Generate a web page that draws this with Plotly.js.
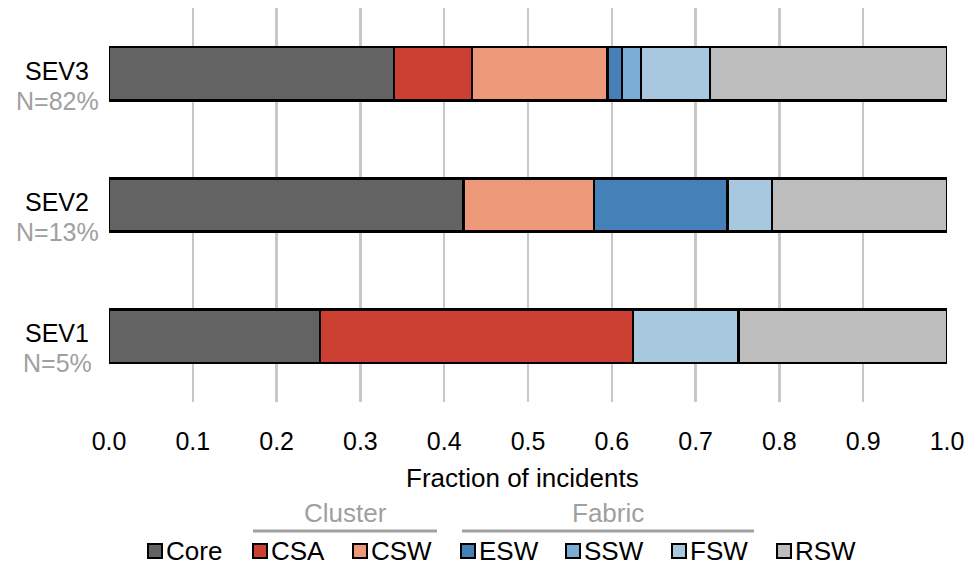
<!DOCTYPE html>
<html>
<head>
<meta charset="utf-8">
<script src="https://cdn.plot.ly/plotly-3.0.1.min.js"></script>
<style>body{margin:0;background:#fff}#chart{width:969px;height:565px}</style>
</head>
<body>
<div id="chart"></div>
<script>
// ---- data ----
const categories = ["SEV1", "SEV2", "SEV3"];
const shares = ["N=5%", "N=13%", "N=82%"];
const seriesNames = ["Core", "CSA", "CSW", "ESW", "SSW", "FSW", "RSW"];
const Core = [0.252, 0.423, 0.340];
const CSA  = [0.373, 0.000, 0.093];
const CSW  = [0.000, 0.156, 0.162];
const ESW  = [0.000, 0.159, 0.017];
const SSW  = [0.000, 0.000, 0.023];
const FSW  = [0.126, 0.053, 0.082];
const RSW  = [0.249, 0.209, 0.283];
const seriesValues = [Core, CSA, CSW, ESW, SSW, FSW, RSW];
const groupLabels = ["Cluster", "Fabric"];
const xTicks = [0, 0.1, 0.2, 0.3, 0.4, 0.5, 0.6, 0.7, 0.8, 0.9, 1.0];

// ---- style ----
const colors = ["#636363", "#cc3f33", "#ee987a", "#4680b8", "#7aacd4", "#a8c8df", "#bdbdbd"];
const FONT = "Liberation Sans, Arial, sans-serif";
const W = 969, H = 565, L = 109, R = 22, T = 8, B = 163;
const PW = W - L - R, PH = H - T - B;
const px = x => (x - L) / PW;
const py = y => (H - B - y) / PH;

const traces = seriesNames.map((n, i) => ({
  type: "bar", orientation: "h", name: n,
  y: categories, x: seriesValues[i],
  marker: {color: colors[i], line: {color: "#000", width: 2.5}},
  hoverinfo: "x+name", showlegend: false
}));

const annotations = [];
categories.forEach((c, i) => {
  annotations.push({xref: "paper", yref: "y", x: px(57), y: c, yshift: 3, text: c, showarrow: false,
    xanchor: "center", yanchor: "middle", font: {family: FONT, size: 25, color: "#000"}});
  annotations.push({xref: "paper", yref: "y", x: px(57), y: c, yshift: -27, text: shares[i], showarrow: false,
    xanchor: "center", yanchor: "middle", font: {family: FONT, size: 25, color: "#a0a0a0"}});
});

// legend (custom)
const legendSq = [148, 253, 353, 461, 566, 672, 777];
const shapes = [];
seriesNames.forEach((n, i) => {
  shapes.push({type: "rect", xref: "paper", yref: "paper",
    x0: px(legendSq[i]), x1: px(legendSq[i] + 14), y0: py(558), y1: py(544),
    fillcolor: colors[i], line: {color: "#000", width: 2}});
  annotations.push({xref: "paper", yref: "paper", x: px(legendSq[i] + 16), y: py(551), text: n,
    showarrow: false, xanchor: "left", yanchor: "middle", font: {family: FONT, size: 26, color: "#000"}});
});
// group brackets
const groupSpan = [[253, 437], [462, 754]];
groupLabels.forEach((g, i) => {
  const [a, b] = groupSpan[i];
  shapes.push({type: "line", xref: "paper", yref: "paper", x0: px(a), x1: px(b), y0: py(531), y1: py(531),
    line: {color: "#a0a0a0", width: 3}});
  annotations.push({xref: "paper", yref: "paper", x: px((a + b) / 2), y: py(513), text: g,
    showarrow: false, xanchor: "center", yanchor: "middle", font: {family: FONT, size: 26, color: "#a0a0a0"}});
});
annotations.push({xref: "paper", yref: "paper", x: px(522), y: py(478), text: "Fraction of incidents",
  showarrow: false, xanchor: "center", yanchor: "middle", font: {family: FONT, size: 26, color: "#000"}});

const layout = {
  width: W, height: H,
  margin: {l: L, r: R, t: T, b: B, pad: 0},
  paper_bgcolor: "#fff", plot_bgcolor: "#fff",
  barmode: "stack", bargap: 0.595,
  showlegend: false,
  xaxis: {range: [0, 1.0], tickvals: xTicks, ticktext: xTicks.map(v => v.toFixed(1)),
    showgrid: true, gridcolor: "#c8c8c8", gridwidth: 2.5, zeroline: false, showline: false,
    ticks: "", ticklabelstandoff: 22, tickfont: {family: FONT, size: 25, color: "#000"}, fixedrange: true},
  yaxis: {categoryorder: "array", categoryarray: categories, range: [-0.5, 2.5],
    showticklabels: false, showgrid: false, zeroline: false, showline: false, ticks: "", fixedrange: true},
  shapes: shapes, annotations: annotations
};
Plotly.newPlot("chart", traces, layout, {displayModeBar: false, staticPlot: true});
</script>
</body>
</html>
